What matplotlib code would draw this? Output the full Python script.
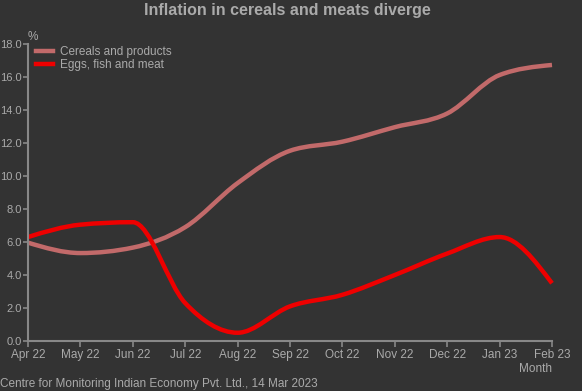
import numpy as np
import matplotlib
matplotlib.use("Agg")
import matplotlib.pyplot as plt
from matplotlib.path import Path
from matplotlib.patches import PathPatch
from matplotlib.lines import Line2D

plt.rcParams['font.family'] = ['Liberation Sans', 'DejaVu Sans']

months = ["Apr 22", "May 22", "Jun 22", "Jul 22", "Aug 22", "Sep 22",
          "Oct 22", "Nov 22", "Dec 22", "Jan 23", "Feb 23"]
cereals = [5.96, 5.33, 5.66, 6.90, 9.57, 11.53, 12.08, 12.96, 13.79, 16.12, 16.73]
eggs_meat = [6.3, 7.05, 7.2, 2.3, 0.5, 2.1, 2.8, 4.0, 5.3, 6.3, 3.5]
series_names = ["Cereals and products", "Eggs, fish and meat"]
series_colors = ["#c26a6a", "#ee0000"]

BG = "#333333"
TXT = "#aaaaaa"
AXC = "#888888"


def monotone_path(x, y):
    # monotone cubic (like d3 curveMonotoneX) as bezier path
    x = np.asarray(x, float)
    y = np.asarray(y, float)
    n = len(x)
    h = np.diff(x)
    d = np.diff(y) / h
    m = np.zeros(n)
    for i in range(1, n - 1):
        if d[i - 1] * d[i] <= 0:
            m[i] = 0
        else:
            p = (d[i - 1] * h[i] + d[i] * h[i - 1]) / (h[i - 1] + h[i])
            m[i] = (np.sign(d[i - 1]) + np.sign(d[i])) * min(abs(d[i - 1]), abs(d[i]), 0.5 * abs(p))
    m[0] = (3 * d[0] - m[1]) / 2 if n > 2 else d[0]
    m[-1] = (3 * d[-1] - m[-2]) / 2 if n > 2 else d[-1]
    verts = [(x[0], y[0])]
    codes = [Path.MOVETO]
    for i in range(n - 1):
        dx = h[i] / 3
        verts += [(x[i] + dx, y[i] + m[i] * dx),
                  (x[i + 1] - dx, y[i + 1] - m[i + 1] * dx),
                  (x[i + 1], y[i + 1])]
        codes += [Path.CURVE4] * 3
    return Path(verts, codes)


fig = plt.figure(figsize=(5.82, 3.91), dpi=100, facecolor=BG)
ax = fig.add_axes([28 / 582, 1 - 341 / 391, 524 / 582, 297 / 391])
ax.set_facecolor(BG)

xs = np.arange(len(months))
for vals, col, name in zip([cereals, eggs_meat], series_colors, series_names):
    ax.add_patch(PathPatch(monotone_path(xs, vals), facecolor="none",
                           edgecolor=col, lw=3.2, capstyle="butt", clip_on=False))

ax.set_xlim(0, len(months) - 1)
ax.set_ylim(0, 18)
ax.set_xticks(xs)
ax.set_xticklabels(months)
ax.set_yticks(np.arange(0, 18.1, 2))
ax.set_yticklabels([f"{v:.1f}" for v in np.arange(0, 18.1, 2)])

for s in ["top", "right"]:
    ax.spines[s].set_visible(False)
for s in ["left", "bottom"]:
    ax.spines[s].set_color(AXC)
    ax.spines[s].set_linewidth(1.5)
ax.tick_params(colors=AXC, labelcolor=TXT, labelsize=8.5, length=4, width=1.2, pad=1.5)
ax.tick_params(axis="y", labelsize=8, length=3.5, pad=1)

handles = [Line2D([], [], color=c, lw=3.2) for c in series_colors]
leg = ax.legend(handles, series_names, loc="upper left", bbox_to_anchor=(0.0, 1.02),
                frameon=False, fontsize=8.5, handlelength=1.4, handletextpad=0.6,
                labelspacing=0.05, borderaxespad=0.3)
for t in leg.get_texts():
    t.set_color(TXT)

fig.text(28 / 582, 1 - 37 / 391, "%", color=TXT, fontsize=8.5, ha="left", va="center")
fig.text(552 / 582, 1 - 369 / 391, "Month", color=TXT, fontsize=8.5, ha="right", va="center")
fig.text(287 / 582, 1 - 10 / 391, "Inflation in cereals and meats diverge", color="#aaaaaa",
         fontsize=11.5, fontweight="bold", ha="center", va="center")
fig.text(0, 1 - 384 / 391, "Centre for Monitoring Indian Economy Pvt. Ltd., 14 Mar 2023",
         color=TXT, fontsize=8.5, ha="left", va="center")

fig.savefig("out.png", dpi=100, facecolor=BG)
